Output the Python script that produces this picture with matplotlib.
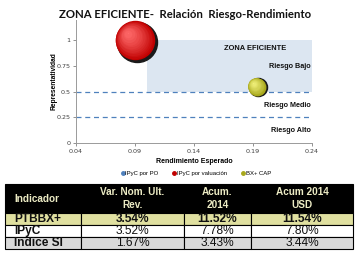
import numpy as np
import matplotlib
matplotlib.use("Agg")
import matplotlib.pyplot as plt
import matplotlib.transforms as mtransforms
from matplotlib.lines import Line2D

# ==== datos ====
series = ["IPyC por PO", "IPyC por valuación", "BX+ CAP"]
rendimiento = [np.nan, 0.09, 0.193]
representatividad = [np.nan, 1.0, 0.55]
bubble_size = [0, 830, 170]
series_colors = ["#4f81bd", "#c00000", "#a8a81c"]
highlight_colors = ["#9dbbe0", "#ff6a6a", "#f0f07a"]

zona_x = [0.10, 0.24]
zona_y = [0.5, 1.0]
niveles_riesgo = [0.5, 0.25]
etiquetas_riesgo = [("ZONA EFICIENTE", 0.92), ("Riesgo Bajo", 0.75), ("Riesgo Medio", 0.37), ("Riesgo Alto", 0.12)]

x_ticks = [0.04, 0.09, 0.14, 0.19, 0.24]
y_ticks = [0, 0.25, 0.5, 0.75, 1]

col_labels = ["Indicador", "Var. Nom. Ult.\nRev.", "Acum.\n2014", "Acum 2014\nUSD"]
indicadores = ["PTBBX+", "IPyC", "Indice SI"]
var_nom = ["3.54%", "3.52%", "1.67%"]
acum_2014 = ["11.52%", "7.78%", "3.43%"]
acum_usd = ["11.54%", "7.80%", "3.44%"]
row_colors = ["#e0e0a0", "#ffffff", "#d9d9d9"]

# ==== figura ====
fig = plt.figure(figsize=(3.57, 2.62), dpi=100)
fig.patch.set_facecolor("white")

fig.text(0.518, 0.943, "ZONA EFICIENTE-  Relación  Riesgo-Rendimiento", ha="center", va="center",
         fontsize=8.2, fontweight="bold", family="Lato", color="#111111")

ax = fig.add_axes([76/357, 1-143/262, 236/357, 123/262])
ax.set_xlim(0.04, 0.24)
ax.set_ylim(0, 1.2)

ax.fill_between(zona_x, zona_y[0], zona_y[1], color="#dce6f1", lw=0, zorder=0)
for nivel in niveles_riesgo:
    ax.axhline(nivel, color="#4f81bd", ls=(0, (4, 3)), lw=0.9, zorder=1)

for texto, yy in etiquetas_riesgo:
    if texto == "ZONA EFICIENTE":
        ax.text(0.192, yy, texto, ha="center", va="center", fontsize=5.4, fontweight="bold",
                family="Liberation Sans", color="#111111")
    else:
        ax.text(0.239, yy, texto, ha="right", va="center", fontsize=5.2, fontweight="bold",
                family="Liberation Sans", color="#111111")

# burbujas con sombreado tipo esfera
for x, y, s, c, h in zip(rendimiento, representatividad, bubble_size, series_colors, highlight_colors):
    if s == 0 or np.isnan(x):
        continue
    r = np.sqrt(s)
    ax.scatter([x], [y], s=s, color="#1a1a1a", zorder=3,
               transform=mtransforms.offset_copy(ax.transData, fig=fig, x=r*0.06, y=-r*0.04, units="points"))
    base = matplotlib.colors.to_rgb(c)
    light = matplotlib.colors.to_rgb(h)
    n = 14
    for i in range(n):
        f = i / (n - 1)
        size = s * (1 - f) ** 1.3 * 0.97 + 1
        col = tuple(b + (l - b) * f for b, l in zip(base, light))
        off = mtransforms.offset_copy(ax.transData, fig=fig, x=-r*0.18*f, y=r*0.18*f, units="points")
        ax.scatter([x], [y], s=size, color=col, zorder=4 + i * 0.01, lw=0, transform=off)

ax.set_xticks(x_ticks)
ax.set_xticklabels([str(t) for t in x_ticks])
ax.set_yticks(y_ticks)
ax.set_yticklabels([str(t) for t in y_ticks])
ax.tick_params(labelsize=4.6, colors="#808080", length=2, width=0.6, pad=2)
for lab in ax.get_xticklabels() + ax.get_yticklabels():
    lab.set_color("#404040")
for sp in ["top", "right"]:
    ax.spines[sp].set_visible(False)
for sp in ["left", "bottom"]:
    ax.spines[sp].set_color("#9a9a9a")
    ax.spines[sp].set_linewidth(0.7)

ax.set_xlabel("Rendimiento Esperado", fontsize=5, fontweight="bold", family="Liberation Sans", labelpad=3)
ax.set_ylabel("Representatividad", fontsize=4.8, fontweight="bold", family="Liberation Sans", labelpad=-1)

handles = [Line2D([], [], marker="o", ls="", color=c, markersize=2.5) for c in series_colors]
fig.legend(handles, series, loc="center", bbox_to_anchor=(0.548, 1-173/262), ncol=3, frameon=False,
           handletextpad=0.1, columnspacing=2.2, handlelength=0.8,
           prop={"family": "Liberation Sans", "size": 4.3})

# ==== tabla ====
tax = fig.add_axes([5/357, 1-249/262, 348/357, 65/262])
tax.axis("off")
cell_text = [[a, b, c, d] for a, b, c, d in zip(indicadores, var_nom, acum_2014, acum_usd)]
tabla = tax.table(cellText=cell_text, colLabels=col_labels, bbox=[0, 0, 1, 1],
                  colWidths=[76, 103, 67, 102])
tabla.auto_set_font_size(False)
for (r, c), cell in tabla.get_celld().items():
    cell.set_edgecolor("black")
    cell.set_linewidth(0.8)
    txt = cell.get_text()
    txt.set_family("Liberation Sans")
    if r == 0:
        cell.set_height(29)
        cell.set_facecolor("black")
        txt.set_color("#ecebc4")
        txt.set_fontweight("bold")
        txt.set_fontsize(7.2)
        txt.set_linespacing(1.45)
    else:
        cell.set_height(12)
        cell.set_facecolor(row_colors[r - 1])
        txt.set_fontsize(8.6)
        txt.set_color("#111111")
        if r == 1 or c == 0:
            txt.set_fontweight("bold")
    if c == 0:
        txt.set_ha("left")
        cell.PAD = 0.12
        cell._loc = "left"
    else:
        txt.set_ha("center")
        cell._loc = "center"

fig.savefig("out.png", dpi=100)
